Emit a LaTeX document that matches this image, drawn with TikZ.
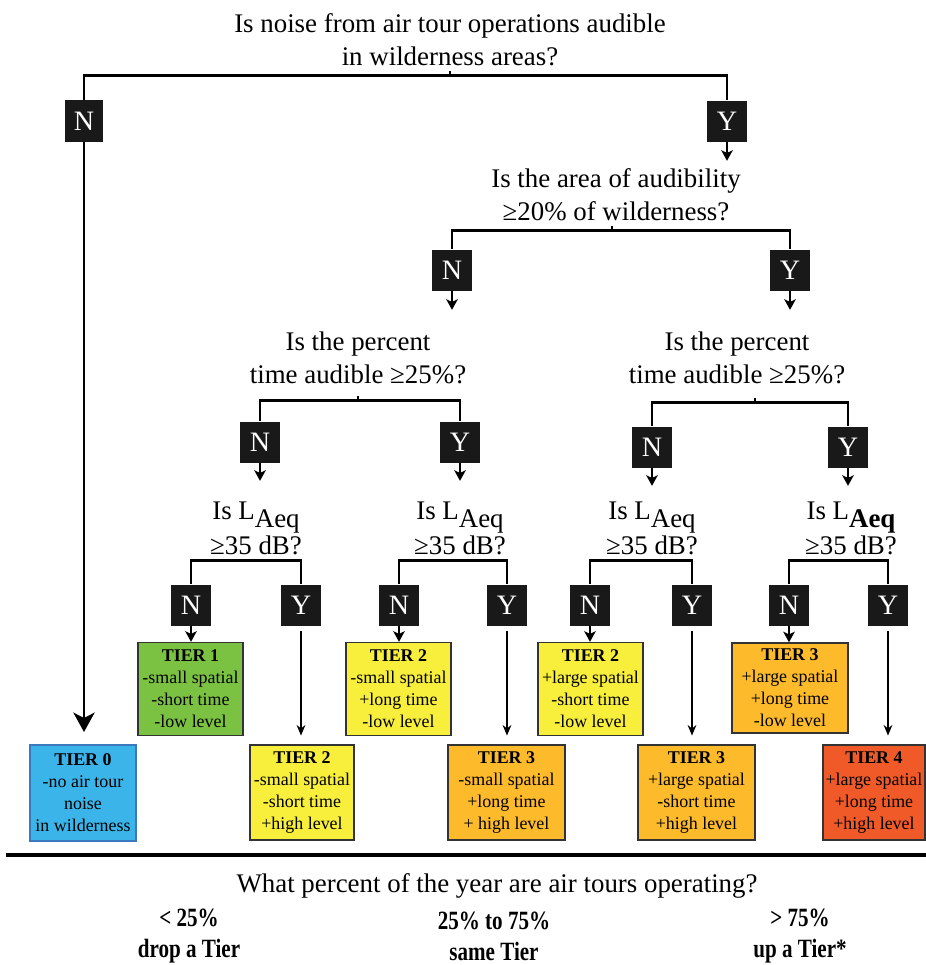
\documentclass[tikz,border=0pt]{standalone}
\usepackage{fontspec}
\setmainfont{Liberation Serif}
\newfontfamily\condbf[FakeStretch=0.8]{Liberation Serif Bold}
\usepackage{tikz}
\usetikzlibrary{arrows.meta,positioning}

\definecolor{tiergreen}{RGB}{124,194,66}
\definecolor{tieryellow}{RGB}{248,238,60}
\definecolor{tierorange}{RGB}{253,186,42}
\definecolor{tierred}{RGB}{240,90,40}
\definecolor{tierblue}{RGB}{59,181,233}
\definecolor{blueedge}{RGB}{60,120,190}

\begin{document}
\begin{tikzpicture}[x=0.02cm, y=-0.02cm,
  quest/.style={align=center, inner sep=1pt, font=\fontsize{15.3}{18.7}\selectfont},
  ans/.style={fill=black!90, text=white, minimum width=0.8cm, minimum height=0.82cm, inner sep=0pt, font=\fontsize{16}{16}\selectfont},
  tier/.style={draw=black!80, line width=0.8pt, align=center, inner sep=0pt, minimum height=1.86cm, font=\fontsize{10.2}{12.5}\selectfont},
  bar/.style={line width=1.7pt},
  tick/.style={line width=0.8pt},
  arr/.style={-{Stealth[length=6pt, width=6.5pt, inset=1.5pt]}, line width=1.3pt},
  thinarr/.style={-{Stealth[length=6pt, width=5pt, inset=2pt]}, line width=0.6pt},
  opt/.style={align=center, font=\condbf\fontsize{15}{17.6}\selectfont},
]
  \useasboundingbox (0,0) rectangle (926,965);

  % first question
  \node[quest] (qTop) at (450,40) {Is noise from air tour operations audible\\in wilderness areas?};
  \node[ans, minimum width=0.76cm, minimum height=0.84cm] (nTop) at (84,121) {N};
  \node[ans] (yTop) at (727,121) {Y};
  \coordinate (barTop) at (450,75);
  \draw[bar] (nTop.north) |- (barTop) -| (yTop.north);
  \draw[tick] (barTop) -- ++(0,-4);
  \draw[arr] (yTop.south) -- ++(0,19);

  % spatial extent
  \node[quest] (qArea) at (616,195) {Is the area of audibility\\ ≥20\% of wilderness?};
  \node[ans] (nArea) at (452,270) {N};
  \node[ans] (yArea) at (790,270) {Y};
  \coordinate (barArea) at (612,230);
  \draw[bar] (nArea.north) |- (barArea) -| (yArea.north);
  \draw[tick] (barArea) -- ++(0,-4);
  \draw[arr] (nArea.south) -- ++(0,19);
  \draw[arr] (yArea.south) -- ++(0,19);

  % percent time audible
  \node[quest] (qTimeS) at (358,358) {Is the percent\\time audible ≥25\%?};
  \node[quest] (qTimeL) at (737,358) {Is the percent\\time audible ≥25\%?};
  \node[ans] (nTimeS) at (260,442) {N};
  \node[ans] (yTimeS) at (460,442) {Y};
  \node[ans] (nTimeL) at (652,447) {N};
  \node[ans] (yTimeL) at (848,447) {Y};
  \coordinate (barTimeS) at (358,400);
  \coordinate (barTimeL) at (755,402);
  \draw[bar] (nTimeS.north) |- (barTimeS) -| (yTimeS.north);
  \draw[bar] (nTimeL.north) |- (barTimeL) -| (yTimeL.north);
  \draw[tick] (barTimeS) -- ++(0,-4);
  \draw[tick] (barTimeL) -- ++(0,-4);
  \foreach \b in {nTimeS,yTimeS,nTimeL,yTimeL}
    \draw[arr] (\b.south) -- ++(0,18);

  % sound level
  \node[quest] (qLeq1) at (256,528) {Is L\raisebox{-0.33em}{Aeq}\\≥35 dB?};
  \node[quest] (qLeq2) at (460,528) {Is L\raisebox{-0.33em}{Aeq}\\≥35 dB?};
  \node[quest] (qLeq3) at (652,528) {Is L\raisebox{-0.33em}{Aeq}\\≥35 dB?};
  \node[quest] (qLeq4) at (851,528) {Is L\raisebox{-0.33em}{\textbf{Aeq}}\\≥35 dB?};
  \node[ans] (nLeq1) at (191,605) {N};
  \node[ans] (yLeq1) at (301,605) {Y};
  \node[ans] (nLeq2) at (399,605) {N};
  \node[ans] (yLeq2) at (507,605) {Y};
  \node[ans] (nLeq3) at (590,605) {N};
  \node[ans] (yLeq3) at (692,605) {Y};
  \node[ans] (nLeq4) at (789,605) {N};
  \node[ans] (yLeq4) at (888,605) {Y};
  \coordinate (barLeq1) at (245,560);
  \coordinate (barLeq2) at (453,560);
  \coordinate (barLeq3) at (641,560);
  \coordinate (barLeq4) at (838,560);
  \foreach \i in {1,2,3,4}
    \draw[bar] (nLeq\i.north) |- (barLeq\i) -| (yLeq\i.north);

  % tiers
  \node[tier, fill=tierblue, draw=blueedge, minimum width=2.12cm, minimum height=1.92cm] (tier0) at (83,793) {\textbf{TIER 0}\\-no air tour\\noise\\in wilderness};
  \node[tier, fill=tiergreen, minimum width=2.1cm] (tier1) at (190.5,689) {\textbf{TIER 1}\\-small spatial\\-short time\\-low level};
  \node[tier, fill=tieryellow, minimum width=2.1cm] (tier2a) at (398.5,689) {\textbf{TIER 2}\\-small spatial\\+long time\\-low level};
  \node[tier, fill=tieryellow, minimum width=2.1cm] (tier2c) at (590.5,689) {\textbf{TIER 2}\\+large spatial\\-short time\\-low level};
  \node[tier, fill=tierorange, minimum width=2.32cm, minimum height=1.8cm] (tier3c) at (790,688) {\textbf{TIER 3}\\+large spatial\\+long time\\-low level};
  \node[tier, fill=tieryellow, minimum width=2.08cm, minimum height=1.9cm] (tier2b) at (302,792.5) {\textbf{TIER 2}\\-small spatial\\-short time\\+high level};
  \node[tier, fill=tierorange, minimum width=2.34cm, minimum height=1.9cm] (tier3a) at (506.5,792.5) {\textbf{TIER 3}\\-small spatial\\+long time\\+ high level};
  \node[tier, fill=tierorange, minimum width=2.34cm, minimum height=1.9cm] (tier3b) at (696.5,792.5) {\textbf{TIER 3}\\+large spatial\\-short time\\+high level};
  \node[tier, fill=tierred, minimum width=2.04cm, minimum height=1.9cm] (tier4) at (874,792.5) {\textbf{TIER 4}\\+large spatial\\+long time\\+high level};

  \draw[line width=1.7pt, -{Stealth[length=11pt, width=12pt, inset=3pt]}, shorten >=7pt] (nTop.south) -- (nTop.south |- tier0.north);
  \draw[arr] (nLeq1.south) -- (nLeq1.south |- tier1.north);
  \draw[arr] (nLeq2.south) -- (nLeq2.south |- tier2a.north);
  \draw[arr] (nLeq3.south) -- (nLeq3.south |- tier2c.north);
  \draw[arr] (nLeq4.south) -- (nLeq4.south |- tier3c.north);
  \draw[thinarr, shorten <=3pt, shorten >=5pt] (yLeq1.south) -- (yLeq1.south |- tier2b.north);
  \draw[thinarr, shorten <=3pt, shorten >=5pt] (yLeq2.south) -- (yLeq2.south |- tier3a.north);
  \draw[thinarr, shorten <=3pt, shorten >=5pt] (yLeq3.south) -- (yLeq3.south |- tier3b.north);
  \draw[thinarr, shorten <=3pt, shorten >=5pt] (yLeq4.south) -- (yLeq4.south |- tier4.north);

  % season of operation
  \draw[line width=2.4pt] (6,855) -- (926,855);
  \node[quest] (qYear) at (497,886) {What percent of the year are air tours operating?};
  \node[opt] (optLow) at (189,936) {< 25\%\\drop a Tier};
  \node[opt] (optMid) at (494,936) {25\% to 75\%\\same Tier};
  \node[opt] (optHigh) at (800,936) {> 75\%\\up a Tier*};
\end{tikzpicture}
\end{document}
